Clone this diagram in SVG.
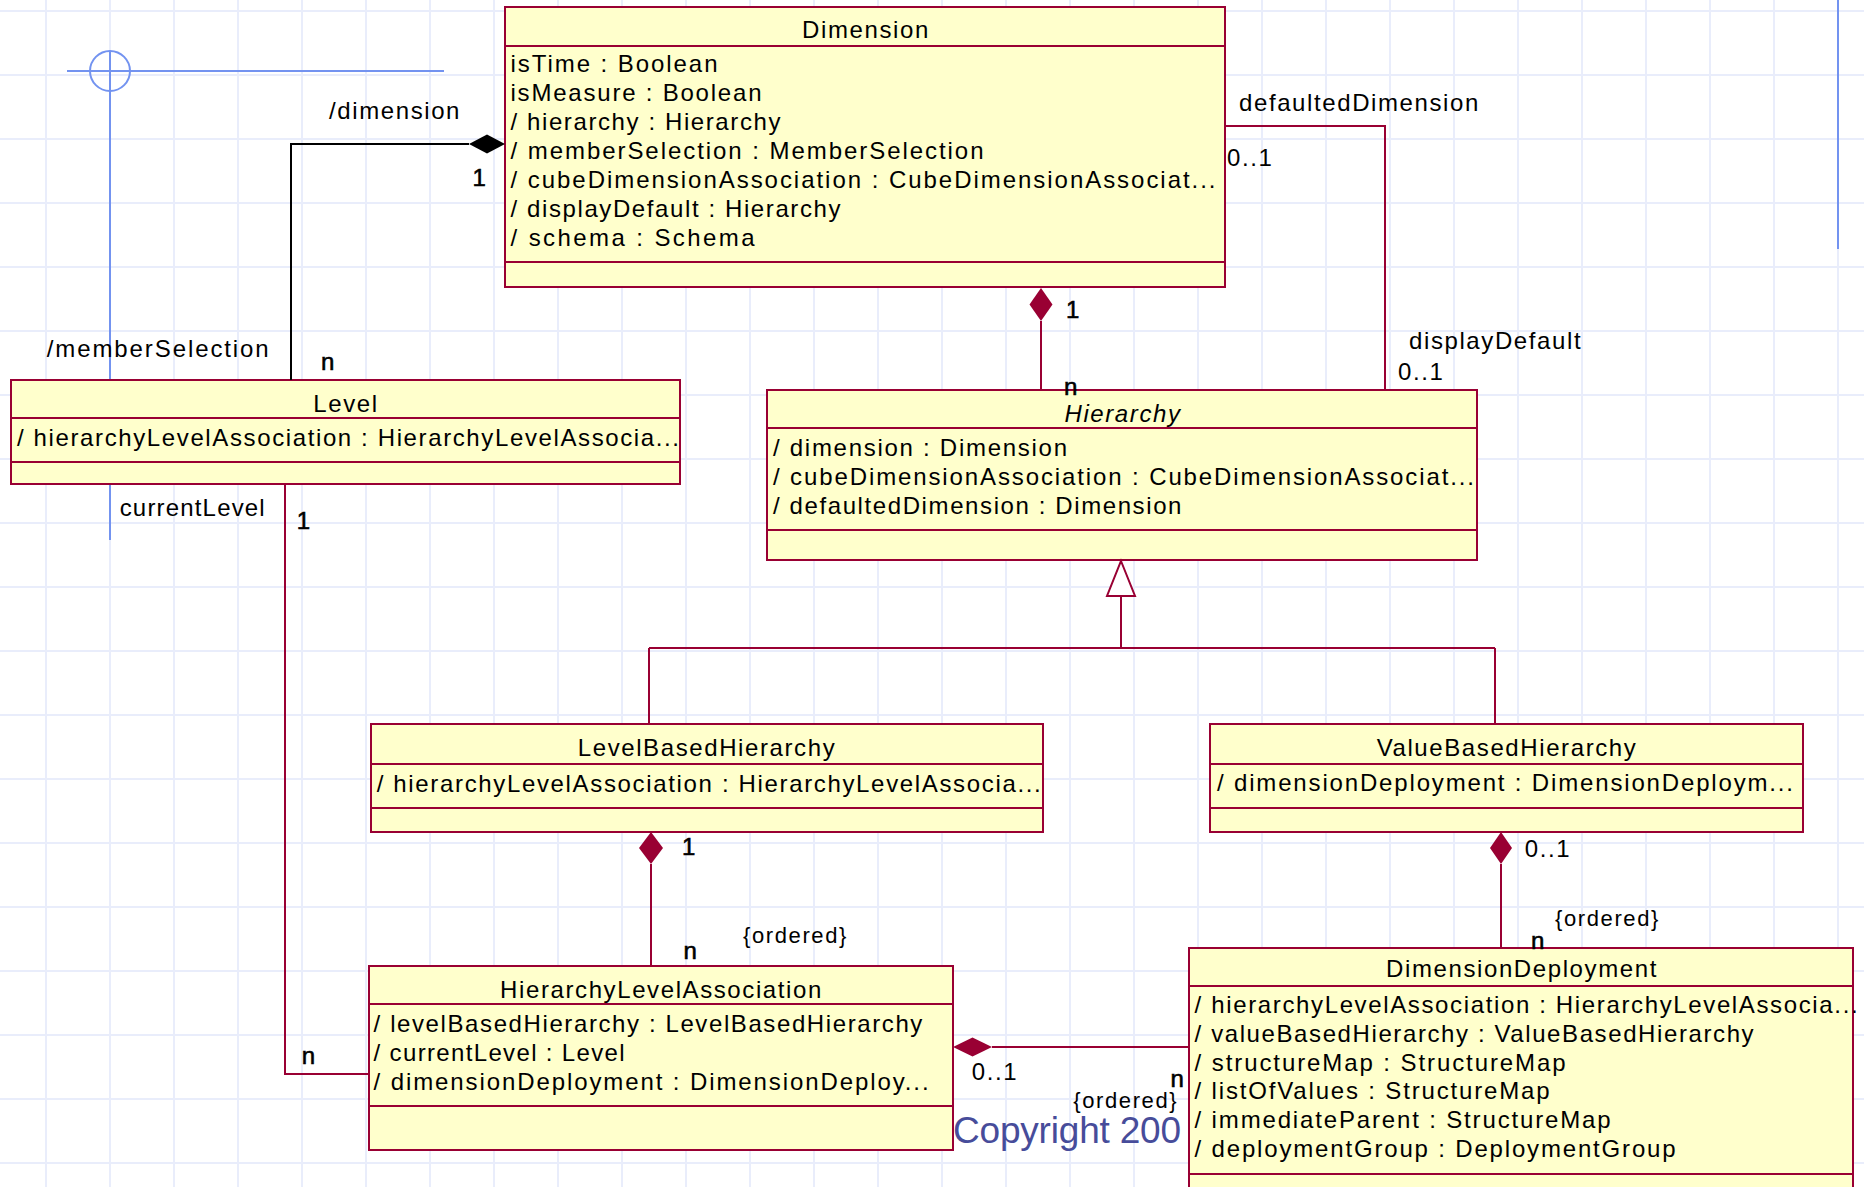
<svg xmlns="http://www.w3.org/2000/svg" width="1864" height="1187" viewBox="0 0 1864 1187">
<style>
.grid{fill:none;stroke:#E9EDFB;stroke-width:2}
.guide{fill:none;stroke:#7393F0;stroke-width:2}
.box{fill:#FFFFCC;stroke:#990033;stroke-width:2}
.sep{stroke:#990033;stroke-width:2}
.t{font-family:"Liberation Sans",Arial,Helvetica,sans-serif;font-size:24px;letter-spacing:1.6px;fill:#000}
.fit{letter-spacing:0}
.title{text-anchor:middle}
.it{font-style:italic}
.mult{stroke:#000;stroke-width:0.6}
.ord{font-size:22px}
.conn{fill:none;stroke:#990033;stroke-width:2}
.connb{fill:none;stroke:#000;stroke-width:2}
.diam{fill:#990033}
.diamb{fill:#000}
.gen{fill:#fff;stroke:#990033;stroke-width:2}
.copy{font-family:"Liberation Sans",Arial,Helvetica,sans-serif;font-size:37px;fill:#474C9A}
</style>
<rect x="0" y="0" width="1864" height="1187" fill="#fff"/>
<path class="grid" d="M46 0V1187M110 0V1187M174 0V1187M238 0V1187M302 0V1187M366 0V1187M430 0V1187M494 0V1187M558 0V1187M622 0V1187M686 0V1187M750 0V1187M814 0V1187M878 0V1187M942 0V1187M1006 0V1187M1070 0V1187M1134 0V1187M1198 0V1187M1262 0V1187M1326 0V1187M1390 0V1187M1454 0V1187M1518 0V1187M1582 0V1187M1646 0V1187M1710 0V1187M1774 0V1187M1838 0V1187M0 11H1864M0 75H1864M0 139H1864M0 203H1864M0 267H1864M0 331H1864M0 395H1864M0 459H1864M0 523H1864M0 587H1864M0 651H1864M0 715H1864M0 779H1864M0 843H1864M0 907H1864M0 971H1864M0 1035H1864M0 1099H1864M0 1163H1864"/>
<g id="guides">
<path class="guide" d="M67 71H444M110 51V540M1838 0V249"/>
<circle class="guide" cx="110" cy="71" r="20"/>
</g>
<text class="copy" x="953" y="1143" textLength="228" lengthAdjust="spacing">Copyright 200</text>

<g id="node-dimension">
<rect class="box" x="505" y="7" width="720" height="280"/>
<line class="sep" x1="505" y1="46" x2="1225" y2="46"/>
<line class="sep" x1="505" y1="262" x2="1225" y2="262"/>
<text class="t title" x="866" y="38">Dimension</text>
<text class="t fit" x="510.5" y="72" textLength="207" lengthAdjust="spacing">isTime : Boolean</text>
<text class="t fit" x="510.5" y="101" textLength="251" lengthAdjust="spacing">isMeasure : Boolean</text>
<text class="t" x="510.5" y="130">/ hierarchy : Hierarchy</text>
<text class="t fit" x="510.5" y="159" textLength="473" lengthAdjust="spacing">/ memberSelection : MemberSelection</text>
<text class="t fit" x="510.5" y="188" textLength="705" lengthAdjust="spacing">/ cubeDimensionAssociation : CubeDimensionAssociat...</text>
<text class="t" x="510.5" y="217">/ displayDefault : Hierarchy</text>
<text class="t fit" x="510.5" y="246" textLength="244" lengthAdjust="spacing">/ schema : Schema</text>
</g>

<g id="node-level">
<rect class="box" x="11" y="380" width="669" height="104"/>
<line class="sep" x1="11" y1="418" x2="680" y2="418"/>
<line class="sep" x1="11" y1="462" x2="680" y2="462"/>
<text class="t title" x="346" y="412">Level</text>
<text class="t fit" x="17" y="446" textLength="662" lengthAdjust="spacing">/ hierarchyLevelAssociation : HierarchyLevelAssocia...</text>
</g>

<g id="node-hierarchy">
<rect class="box" x="767" y="390" width="710" height="170"/>
<line class="sep" x1="767" y1="428" x2="1477" y2="428"/>
<line class="sep" x1="767" y1="530" x2="1477" y2="530"/>
<text class="t title it" x="1123" y="421.5">Hierarchy</text>
<text class="t fit" x="773" y="456" textLength="294" lengthAdjust="spacing">/ dimension : Dimension</text>
<text class="t fit" x="773" y="485" textLength="701" lengthAdjust="spacing">/ cubeDimensionAssociation : CubeDimensionAssociat...</text>
<text class="t" x="773" y="514">/ defaultedDimension : Dimension</text>
</g>

<g id="node-levelbasedhierarchy">
<rect class="box" x="371" y="724" width="672" height="108"/>
<line class="sep" x1="371" y1="764" x2="1043" y2="764"/>
<line class="sep" x1="371" y1="808" x2="1043" y2="808"/>
<text class="t title" x="707" y="756">LevelBasedHierarchy</text>
<text class="t fit" x="376.7" y="792" textLength="664" lengthAdjust="spacing">/ hierarchyLevelAssociation : HierarchyLevelAssocia...</text>
</g>

<g id="node-valuebasedhierarchy">
<rect class="box" x="1210" y="724" width="593" height="108"/>
<line class="sep" x1="1210" y1="764" x2="1803" y2="764"/>
<line class="sep" x1="1210" y1="808" x2="1803" y2="808"/>
<text class="t title" x="1507" y="756">ValueBasedHierarchy</text>
<text class="t fit" x="1217" y="791" textLength="576" lengthAdjust="spacing">/ dimensionDeployment : DimensionDeploym...</text>
</g>

<g id="node-hierarchylevelassociation">
<rect class="box" x="369" y="966" width="584" height="184"/>
<line class="sep" x1="369" y1="1004" x2="953" y2="1004"/>
<line class="sep" x1="369" y1="1106" x2="953" y2="1106"/>
<text class="t title" x="661.5" y="998">HierarchyLevelAssociation</text>
<text class="t" x="373.6" y="1032">/ levelBasedHierarchy : LevelBasedHierarchy</text>
<text class="t fit" x="373.6" y="1061" textLength="251" lengthAdjust="spacing">/ currentLevel : Level</text>
<text class="t fit" x="373.6" y="1090" textLength="555" lengthAdjust="spacing">/ dimensionDeployment : DimensionDeploy...</text>
</g>

<g id="node-dimensiondeployment">
<rect class="box" x="1189" y="948" width="664" height="260"/>
<line class="sep" x1="1189" y1="986" x2="1853" y2="986"/>
<line class="sep" x1="1189" y1="1174" x2="1853" y2="1174"/>
<text class="t title" x="1522" y="977">DimensionDeployment</text>
<text class="t fit" x="1194.6" y="1013" textLength="663" lengthAdjust="spacing">/ hierarchyLevelAssociation : HierarchyLevelAssocia...</text>
<text class="t" x="1194.6" y="1042">/ valueBasedHierarchy : ValueBasedHierarchy</text>
<text class="t fit" x="1194.6" y="1071" textLength="371" lengthAdjust="spacing">/ structureMap : StructureMap</text>
<text class="t fit" x="1194.6" y="1099" textLength="355" lengthAdjust="spacing">/ listOfValues : StructureMap</text>
<text class="t fit" x="1194.6" y="1128" textLength="416" lengthAdjust="spacing">/ immediateParent : StructureMap</text>
<text class="t fit" x="1194.6" y="1157" textLength="481" lengthAdjust="spacing">/ deploymentGroup : DeploymentGroup</text>
</g>

<g id="connectors">
<!-- Level to Dimension (memberSelection) -->
<path class="connb" d="M291 380V144H469"/>
<polygon class="diamb" points="505,144 487,134.5 469,144 487,153.5"/>
<text class="t" x="329" y="119">/dimension</text>
<text class="t mult" x="472.5" y="186">1</text>
<text class="t fit" x="46.7" y="357" textLength="222" lengthAdjust="spacing">/memberSelection</text>
<text class="t mult" x="321" y="370">n</text>
<!-- Dimension to Hierarchy (defaultedDimension/displayDefault) -->
<path class="conn" d="M1225 126H1385V390"/>
<text class="t" x="1239" y="111">defaultedDimension</text>
<text class="t" x="1227" y="165.5">0..1</text>
<text class="t" x="1409" y="349">displayDefault</text>
<text class="t" x="1398" y="380">0..1</text>
<!-- Dimension composition Hierarchy -->
<polygon class="diam" points="1041,288 1052.5,304.5 1041,321 1029.5,304.5"/>
<path class="conn" d="M1041 321V390"/>
<text class="t mult" x="1066" y="318">1</text>
<text class="t mult" x="1064" y="395">n</text>
<!-- Generalization -->
<path class="conn" d="M1121 596V648M649 648H1495M649 648V724M1495 648V724"/>
<polygon class="gen" points="1121,561 1135,596 1107,596"/>
<!-- LevelBasedHierarchy composition HierarchyLevelAssociation -->
<polygon class="diam" points="651,832 663,848 651,864 639,848"/>
<path class="conn" d="M651 864V966"/>
<text class="t mult" x="682" y="855">1</text>
<text class="t mult" x="683.4" y="959">n</text>
<text class="t ord" x="743" y="943">{ordered}</text>
<!-- ValueBasedHierarchy composition DimensionDeployment -->
<polygon class="diam" points="1501,832 1512,848 1501,864 1490,848"/>
<path class="conn" d="M1501 864V948"/>
<text class="t" x="1524.7" y="857">0..1</text>
<text class="t ord" x="1555" y="926">{ordered}</text>
<text class="t mult" x="1531" y="949">n</text>
<!-- Level to HierarchyLevelAssociation (currentLevel) -->
<path class="conn" d="M285 484V1074H369"/>
<text class="t fit" x="119.7" y="516" textLength="145" lengthAdjust="spacing">currentLevel</text>
<text class="t mult" x="296.7" y="529">1</text>
<text class="t mult" x="301.7" y="1064">n</text>
<!-- HierarchyLevelAssociation composition DimensionDeployment -->
<polygon class="diam" points="953,1047 972.5,1037.5 992,1047 972.5,1056.5"/>
<path class="conn" d="M992 1047H1189"/>
<text class="t" x="971.7" y="1080">0..1</text>
<text class="t mult" x="1170.5" y="1087">n</text>
<text class="t ord" x="1073.3" y="1108">{ordered}</text>
</g>
</svg>
